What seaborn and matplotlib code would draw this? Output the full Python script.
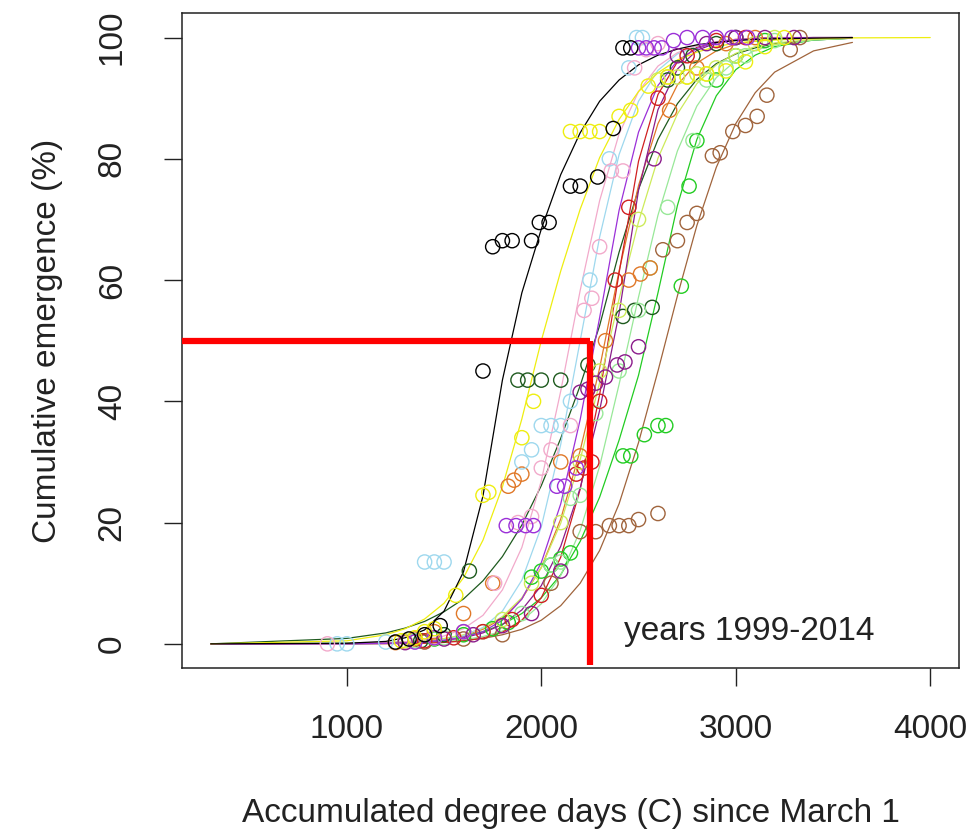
import numpy as np
import pandas as pd
import matplotlib
matplotlib.use('Agg')
import matplotlib.pyplot as plt
import seaborn as sns

nan = np.nan

# degree-day grid for the fitted curves
grid = [300, 1000, 1200, 1300, 1400, 1500, 1600, 1700, 1800, 1900, 2000, 2100, 2200,
        2300, 2400, 2500, 2600, 2700, 2800, 2900, 3000, 3100, 3200, 3400, 3600, 4000]

# fitted curves
black_fit = [0, 0.1, 0.4, 1.0, 2.3, 5.4, 11.9, 24.4, 43.5, 57.9, 68.4, 77.4, 84.3, 89.5, 93.0, 95.5, 97.1, 98.1, 98.8, 99.2, 99.5, 99.7, 99.8, 99.9, 100, nan]
yellow_fit = [0, 0.5, 1.5, 2.5, 4.1, 6.7, 10.9, 17.1, 25.9, 37.1, 50, 61.5, 71.7, 80.2, 86.5, 91.1, 94.2, 96.3, 97.6, 98.5, 99.1, 99.4, 99.6, 99.85, 99.95, 100]
purple_fit = [0, 0.02, 0.07, 0.15, 0.3, 0.55, 1.1, 2.0, 3.9, 7.4, 13.4, 23.1, 37, 53.8, 71.5, 84.4, 92.1, 96.2, 98.2, 99.2, 99.6, 99.8, 99.9, 100, 100, nan]
magenta_fit = [0, 0.03, 0.1, 0.17, 0.31, 0.56, 1, 1.8, 3.2, 5.6, 9.6, 16.1, 25.7, 38.5, 54.5, 74.8, 88.1, 94.8, 97.9, 99.1, 99.6, 99.8, 99.9, 100, 100, nan]
pink_fit = [0, 0.05, 0.18, 0.34, 0.67, 1.3, 2.5, 4.7, 8.9, 15.9, 26.9, 41.7, 58.3, 73.1, 84.1, 91.1, 95.3, 97.5, 98.7, 99.3, 99.7, 99.8, 99.9, 100, 100, nan]
lightblue_fit = [0, 0, 0.08, 0.16, 0.33, 0.67, 1.35, 2.7, 5.4, 10.5, 19.3, 32.9, 50, 67.1, 80.7, 89.5, 94.6, 97.3, 98.6, 99.3, 99.7, 99.8, 99.9, 100, 100, nan]
green_fit = [0, 0.09, 0.2, 0.34, 0.53, 0.84, 1.3, 2.0, 3.2, 5.0, 7.6, 11.4, 16.9, 24.2, 33.6, 44.3, 57.9, 72.3, 83.2, 90.4, 94.7, 97.1, 98.5, 99.6, 99.9, nan]
brown_fit = [0, 0.03, 0.07, 0.12, 0.2, 0.33, 0.55, 0.9, 1.5, 2.4, 3.9, 6.3, 10, 15.4, 23.1, 33.2, 45, 57.4, 69, 78.6, 85.8, 90.9, 94.3, 97.8, 99.2, nan]
darkgreen_fit = [0, 0.9, 1.8, 2.6, 3.7, 5.3, 7.4, 10.4, 14.4, 19.6, 26.1, 33.9, 42.6, 52.5, 64.6, 75, 83.2, 89.1, 93.1, 95.7, 97.3, 98.3, 99, 99.6, 99.9, nan]
lightgreen_fit = [0, 0, 0.06, 0.12, 0.2, 0.37, 0.67, 1.2, 2.1, 3.8, 6.6, 11.3, 18.7, 29.3, 42.8, 57.2, 70.7, 81.3, 88.7, 93.4, 96.2, 97.9, 98.8, 99.6, 99.9, nan]
orange_fit = [0, 0.04, 0.13, 0.23, 0.42, 0.75, 1.35, 2.4, 4.2, 7.4, 12.6, 20.6, 31.9, 45.5, 61.5, 75.6, 85.8, 92.2, 95.8, 97.8, 98.9, 99.4, 99.7, 99.9, 100, nan]
red_fit = [0, 0.01, 0.03, 0.06, 0.1, 0.23, 0.47, 0.95, 1.9, 3.9, 7.6, 14.3, 25.5, 41.1, 61.2, 79.6, 90.6, 96, 98.4, 99.3, 99.7, 99.9, 100, 100, 100, nan]
yellowgreen_fit = [0, 0.06, 0.17, 0.29, 0.5, 0.88, 1.5, 2.6, 4.5, 7.6, 12.6, 19.9, 30.4, 43.1, 56.9, 69.6, 80.1, 87.4, 92.4, 95.5, 97.4, 98.5, 99.1, 99.7, 99.9, nan]

# observed emergence points
black_x = [1250, 1320, 1400, 1480, 1700, 1750, 1800, 1850, 1950, 1990, 2040, 2150, 2200, 2290, 2370, 2420, 2460]
black_y = [0.3, 0.8, 1.5, 3, 45, 65.5, 66.5, 66.5, 66.5, 69.5, 69.5, 75.5, 75.5, 77, 85, 98.3, 98.3]
yellow_x = [1280, 1350, 1400, 1450, 1560, 1700, 1730, 1900, 1960, 2150, 2200, 2250, 2300, 2400, 2460, 2550, 2650, 2750, 2850, 2950, 3050, 3150, 3250]
yellow_y = [0.5, 1, 2, 2.5, 8, 24.5, 25, 34, 40, 84.5, 84.5, 84.5, 84.5, 87, 88, 92, 93.5, 93.5, 94, 94.5, 96, 98.5, 100]
purple_x = [1350, 1450, 1600, 1820, 1870, 1920, 1960, 2080, 2120, 2180, 2500, 2540, 2580, 2620, 2680, 2750, 2830, 2900, 2980, 3060]
purple_y = [0.3, 1, 2, 19.5, 19.5, 19.5, 19.5, 26, 26, 29, 98.3, 98.3, 98.3, 98.3, 99.5, 100, 100, 100, 100, 100]
magenta_x = [1300, 1500, 1650, 1800, 1950, 2100, 2200, 2240, 2280, 2330, 2390, 2430, 2500, 2580, 2700, 2850, 3000, 3150, 3300]
magenta_y = [0.2, 0.8, 1.5, 3, 5, 12, 41.5, 42, 43, 44, 46, 46.5, 49, 80, 97, 99, 100, 100, 100]
pink_x = [900, 1300, 1450, 1600, 1760, 1880, 1950, 2000, 2050, 2150, 2220, 2260, 2300, 2360, 2420, 2480, 2540, 2600]
pink_y = [0, 0.3, 1, 2, 10, 20, 21, 29, 32, 36, 55, 57, 65.5, 78, 78, 95, 98, 99]
lightblue_x = [950, 1000, 1200, 1400, 1450, 1500, 1900, 1950, 2000, 2050, 2100, 2150, 2250, 2350, 2450, 2490, 2520]
lightblue_y = [0, 0, 0.3, 13.5, 13.5, 13.5, 30, 32, 36, 36, 36, 40, 60, 80, 95, 100, 100]
green_x = [1300, 1450, 1600, 1750, 1830, 1950, 2000, 2050, 2100, 2150, 2420, 2460, 2530, 2600, 2640, 2720, 2760, 2800, 2900, 3000, 3150]
green_y = [0.3, 0.8, 1.5, 2.5, 3.5, 11, 12, 13, 14, 15, 31, 31, 34.5, 36, 36, 59, 75.5, 83, 93, 97, 99.5]
brown_x = [1400, 1600, 1800, 2050, 2200, 2280, 2350, 2400, 2450, 2500, 2600, 2625, 2700, 2750, 2800, 2880, 2920, 2985, 3050, 3110, 3160, 3280, 3330]
brown_y = [0.3, 0.8, 1.5, 10, 18.5, 18.5, 19.5, 19.5, 19.5, 20.5, 21.5, 65, 66.5, 69.5, 71, 80.5, 81, 84.5, 85.5, 87, 90.5, 98, 100]
darkgreen_x = [1380, 1500, 1630, 1880, 1930, 2000, 2100, 2240, 2420, 2480, 2570, 2650, 2700, 2780, 2900, 3000]
darkgreen_y = [0.5, 1.5, 12, 43.5, 43.5, 43.5, 43.5, 46, 54, 55, 55.5, 93, 95, 97, 99, 100]
lightgreen_x = [1350, 1500, 1700, 1900, 2050, 2100, 2150, 2200, 2280, 2400, 2500, 2560, 2650, 2780, 2850, 2950, 3050, 3200]
lightgreen_y = [0.5, 1, 2, 5, 13, 13.5, 24, 24.5, 38, 45, 55, 62, 72, 83, 93, 95, 97, 99.5]
orange_x = [1250, 1350, 1450, 1600, 1750, 1830, 1860, 1900, 2100, 2200, 2330, 2450, 2510, 2560, 2660, 2800, 2950, 3100]
orange_y = [0.2, 0.8, 2, 5, 10, 26, 27, 28, 30, 31, 50, 60, 61, 62, 88, 95, 99, 100]
red_x = [1400, 1550, 1700, 1850, 2000, 2180, 2220, 2260, 2300, 2380, 2450, 2600, 2750, 2900, 3050]
red_y = [0.5, 1, 2, 4, 8, 28, 29, 30, 40, 60, 72, 90, 97, 99.5, 100]
yellowgreen_x = [1300, 1450, 1600, 1800, 1950, 2100, 2200, 2300, 2400, 2500, 2600, 2650, 2700, 2750, 2800, 2850, 2900, 3000, 3100, 3200]
yellowgreen_y = [0.5, 1, 2, 4, 10, 20, 30, 45, 55, 70, 93, 93.5, 93.5, 93.5, 94, 94, 95, 97, 99, 100]

series = [
    ('darkgreen', '#1E5A1E', darkgreen_fit, darkgreen_x, darkgreen_y),
    ('brown', '#A0643C', brown_fit, brown_x, brown_y),
    ('green', '#22CC22', green_fit, green_x, green_y),
    ('lightgreen', '#98E898', lightgreen_fit, lightgreen_x, lightgreen_y),
    ('orange', '#E07828', orange_fit, orange_x, orange_y),
    ('red', '#D02020', red_fit, red_x, red_y),
    ('yellowgreen', '#CDEB5A', yellowgreen_fit, yellowgreen_x, yellowgreen_y),
    ('lightblue', '#9ED8EE', lightblue_fit, lightblue_x, lightblue_y),
    ('pink', '#F2AACB', pink_fit, pink_x, pink_y),
    ('magenta', '#8B1C8B', magenta_fit, magenta_x, magenta_y),
    ('purple', '#9B30D8', purple_fit, purple_x, purple_y),
    ('yellow', '#EEEE10', yellow_fit, yellow_x, yellow_y),
    ('black', '#000000', black_fit, black_x, black_y),
]

cutoff_x = 2250
cutoff_y = 50

sns.set_style('white')
plt.rcParams['font.family'] = ['Liberation Sans', 'DejaVu Sans']

fig = plt.figure(figsize=(9.73, 8.32), dpi=100)
ax = fig.add_axes([0.187, 0.197, 0.7986, 0.787])

for name, col, fit, px, py in series:
    curve = pd.DataFrame({'dd': grid, 'pct': fit}).dropna()
    sns.lineplot(data=curve, x='dd', y='pct', color=col, lw=0.9, ax=ax, sort=False)
    sns.scatterplot(x=px, y=py, color=col, facecolors='none', edgecolor=col,
                    s=105, linewidth=1.0, ax=ax, zorder=3)

ax.set_xlim(152, 4148)
ax.set_ylim(-4, 104)

# red reference lines
ax.hlines(cutoff_y, 152, cutoff_x, color='#FF0000', lw=4.5, zorder=5)
ax.vlines(cutoff_x, -3.5, cutoff_y, color='#FF0000', lw=4.5, zorder=5)

ax.text(3070, 2, 'years 1999-2014', fontsize=24, ha='center', va='center', color='#222222')

ax.set_xticks([1000, 2000, 3000, 4000])
ax.set_yticks([0, 20, 40, 60, 80, 100])
ax.tick_params(axis='both', direction='out', length=13, width=1.0, color='#222222',
               labelsize=24, labelcolor='#222222', left=True, bottom=True)
ax.tick_params(axis='x', pad=20)
ax.tick_params(axis='y', pad=26)
for lab in ax.get_yticklabels():
    lab.set_rotation(90)
    lab.set_va('center')

ax.set_xlabel('Accumulated degree days (C) since March 1', fontsize=24, color='#222222', labelpad=38)
ax.set_ylabel('Cumulative emergence (%)', fontsize=24, color='#222222', labelpad=24)

for sp in ax.spines.values():
    sp.set_color('#222222')
    sp.set_linewidth(1.1)

fig.savefig('out.png', dpi=100)
